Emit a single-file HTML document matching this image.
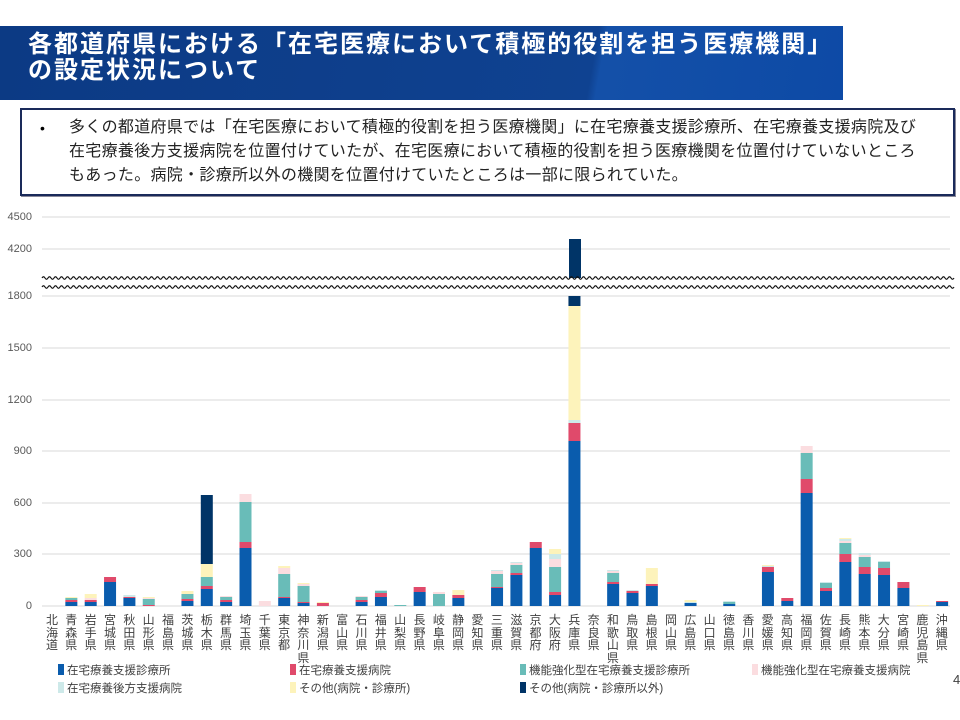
<!DOCTYPE html>
<html><head><meta charset="utf-8"><style>
body{margin:0;width:960px;height:720px;background:#fff;position:relative;overflow:hidden;font-family:"Liberation Sans","Noto Sans CJK JP",sans-serif}
.hdr{position:absolute;left:0;top:26px;width:843px;height:74px;background:linear-gradient(100deg,#0c3a84 0%,#0f4291 70%,#1450a8 71%,#0d4aa6 100%)}
.hdr div{position:absolute;left:28px;top:6px;color:#fff;font-weight:bold;font-size:24px;line-height:26px;letter-spacing:2px;white-space:nowrap}
.box{position:absolute;left:20px;top:108px;width:931px;height:84px;border:2px solid #1a2a5a;box-shadow:1px 1px 0 #889}
.box .b{position:absolute;left:18px;top:10px;font-size:14px}
.box .t{position:absolute;left:47px;top:6px;font-size:16px;line-height:24px;color:#222;white-space:nowrap;letter-spacing:0.3px}
.yl{position:absolute;font-size:11px;color:#595959;width:32px;text-align:right;left:0}
.xl{position:absolute;top:614px;left:42.3px;display:flex}
.xl div{width:19.35px;text-align:center;font-size:12px;line-height:12.6px;color:#404040}
.lg{position:absolute;font-size:11.5px;color:#404040;white-space:nowrap}
.lg i{display:inline-block;width:6px;height:11px;margin-right:3px;vertical-align:-1px}
</style></head><body>
<div class="hdr"><div>各都道府県における「在宅医療において積極的役割を担う医療機関」<br>の設定状況について</div></div>
<div class="box"><span class="b">•</span><div class="t">多くの都道府県では「在宅医療において積極的役割を担う医療機関」に在宅療養支援診療所、在宅療養支援病院及び<br>在宅療養後方支援病院を位置付けていたが、在宅医療において積極的役割を担う医療機関を位置付けていないところ<br>もあった。病院・診療所以外の機関を位置付けていたところは一部に限られていた。</div></div>
<div class="yl" style="top:211px">4500</div>
<div class="yl" style="top:243px">4200</div>
<div class="yl" style="top:290px">1800</div>
<div class="yl" style="top:342px">1500</div>
<div class="yl" style="top:394px">1200</div>
<div class="yl" style="top:445px">900</div>
<div class="yl" style="top:497px">600</div>
<div class="yl" style="top:548px">300</div>
<div class="yl" style="top:600px">0</div>
<svg id="s" width="960" height="720" style="position:absolute;left:0;top:0">
<g stroke="#d9d9d9" stroke-width="1">
<line x1="42" x2="950" y1="217" y2="217"/><line x1="42" x2="950" y1="249" y2="249"/>
<line x1="42" x2="950" y1="296" y2="296"/><line x1="42" x2="950" y1="348" y2="348"/>
<line x1="42" x2="950" y1="400" y2="400"/><line x1="42" x2="950" y1="451" y2="451"/>
<line x1="42" x2="950" y1="503" y2="503"/><line x1="42" x2="950" y1="554" y2="554"/>
<line x1="42" x2="950" y1="606" y2="606"/></g>
<g id="bars"></g>
<rect x="42" y="278" width="910" height="10" fill="#fff"/>
<path id="z1" fill="none" stroke="#111" stroke-width="1.2"/>
<path id="z2" fill="none" stroke="#111" stroke-width="1.2"/>
</svg>
<div class="xl">
<div>北<br>海<br>道</div><div>青<br>森<br>県</div><div>岩<br>手<br>県</div><div>宮<br>城<br>県</div><div>秋<br>田<br>県</div><div>山<br>形<br>県</div><div>福<br>島<br>県</div><div>茨<br>城<br>県</div><div>栃<br>木<br>県</div><div>群<br>馬<br>県</div><div>埼<br>玉<br>県</div><div>千<br>葉<br>県</div><div>東<br>京<br>都</div><div>神<br>奈<br>川<br>県</div><div>新<br>潟<br>県</div><div>富<br>山<br>県</div><div>石<br>川<br>県</div><div>福<br>井<br>県</div><div>山<br>梨<br>県</div><div>長<br>野<br>県</div><div>岐<br>阜<br>県</div><div>静<br>岡<br>県</div><div>愛<br>知<br>県</div><div>三<br>重<br>県</div><div>滋<br>賀<br>県</div><div>京<br>都<br>府</div><div>大<br>阪<br>府</div><div>兵<br>庫<br>県</div><div>奈<br>良<br>県</div><div>和<br>歌<br>山<br>県</div><div>鳥<br>取<br>県</div><div>島<br>根<br>県</div><div>岡<br>山<br>県</div><div>広<br>島<br>県</div><div>山<br>口<br>県</div><div>徳<br>島<br>県</div><div>香<br>川<br>県</div><div>愛<br>媛<br>県</div><div>高<br>知<br>県</div><div>福<br>岡<br>県</div><div>佐<br>賀<br>県</div><div>長<br>崎<br>県</div><div>熊<br>本<br>県</div><div>大<br>分<br>県</div><div>宮<br>崎<br>県</div><div>鹿<br>児<br>島<br>県</div><div>沖<br>縄<br>県</div>
</div>
<div class="lg" style="left:58px;top:662px"><i style="background:#0a5cad"></i>在宅療養支援診療所</div>
<div class="lg" style="left:290px;top:662px"><i style="background:#e04a6b"></i>在宅療養支援病院</div>
<div class="lg" style="left:520px;top:662px"><i style="background:#69bcb8"></i>機能強化型在宅療養支援診療所</div>
<div class="lg" style="left:752px;top:662px"><i style="background:#fbdde0"></i>機能強化型在宅療養支援病院</div>
<div class="lg" style="left:58px;top:680px"><i style="background:#cde9e9"></i>在宅療養後方支援病院</div>
<div class="lg" style="left:290px;top:680px"><i style="background:#fdf3bb"></i>その他(病院・診療所)</div>
<div class="lg" style="left:520px;top:680px"><i style="background:#003467"></i>その他(病院・診療所以外)</div>
<div class="lg" style="left:953px;top:672px;font-size:13px">4</div>
<script>
var C={A:"#0a5cad",B:"#e04a6b",C:"#69bcb8",D:"#fbdde0",E:"#cde9e9",F:"#fdf3bb",G:"#003467"};
var d=[[],
[["A",4],["B",2],["C",2],["F",1]],
[["A",4],["B",2],["D",2],["F",4]],
[["A",24],["B",5]],
[["A",8],["B",1],["E",2]],
[["B",1],["C",6],["D",1],["F",1]],
[],
[["A",5],["B",2],["C",5],["F",3]],
[["A",17],["B",3],["C",9],["F",13],["G",69]],
[["A",4],["B",2],["C",3],["D",1]],
[["A",58],["B",6],["C",40],["D",8]],
[["D",5]],
[["A",8],["B",1],["C",23],["D",6],["F",2]],
[["A",3],["B",1],["C",16],["D",2],["F",1]],
[["B",3],["F",1]],
[],
[["A",4],["B",2],["C",3],["D",1]],
[["A",9],["B",4],["C",2],["E",1]],
[["C",1]],
[["A",14],["B",5]],
[["C",12],["D",2]],
[["A",8],["B",3],["F",5]],
[],
[["A",18],["B",1],["C",13],["D",3],["E",1]],
[["A",31],["B",2],["C",8],["D",2],["E",1]],
[["A",58],["B",6]],
[["A",11],["B",3],["C",25],["D",8],["E",5],["F",5]],
[["A",165],["B",18],["E",3],["F",114],["G",10]],
[],
[["A",22],["B",2],["C",9],["D",2],["E",1]],
[["A",13],["B",2],["E",1]],
[["A",20],["B",2],["F",16]],
[],
[["A",3],["E",1],["F",2]],
[],
[["A",2],["C",2],["E",1]],
[],
[["A",34],["B",5],["E",1],["F",1]],
[["A",5],["B",3]],
[["A",113],["B",14],["C",26],["D",7]],
[["A",15],["B",3],["C",5],["E",1]],
[["A",44],["B",8],["C",11],["D",2],["E",2],["F",1]],
[["A",32],["B",7],["C",10],["D",2],["E",2]],
[["A",31],["B",7],["C",6],["E",1]],
[["A",18],["B",6]],
[["F",1]],
[["A",4],["B",1]]];
var g=document.getElementById("bars"),h="";
for(var i=0;i<47;i++){var cx=52+i*19.35,y=606;
d[i].forEach(function(s){y-=s[1];h+='<rect x="'+(cx-6)+'" y="'+y+'" width="12" height="'+s[1]+'" fill="'+C[s[0]]+'"/>';});}
h+='<rect x="569" y="239" width="12" height="40" fill="#003467"/>';
g.innerHTML=h;
function zz(y){var p="M42 "+y;for(var x=42;x<952;x+=6){p+=" Q"+(x+1.5)+" "+(y-2.5)+" "+(x+3)+" "+y+" Q"+(x+4.5)+" "+(y+2.5)+" "+(x+6)+" "+y;}return p;}
document.getElementById("z1").setAttribute("d",zz(278));
document.getElementById("z2").setAttribute("d",zz(287));
</script>
</body></html>
